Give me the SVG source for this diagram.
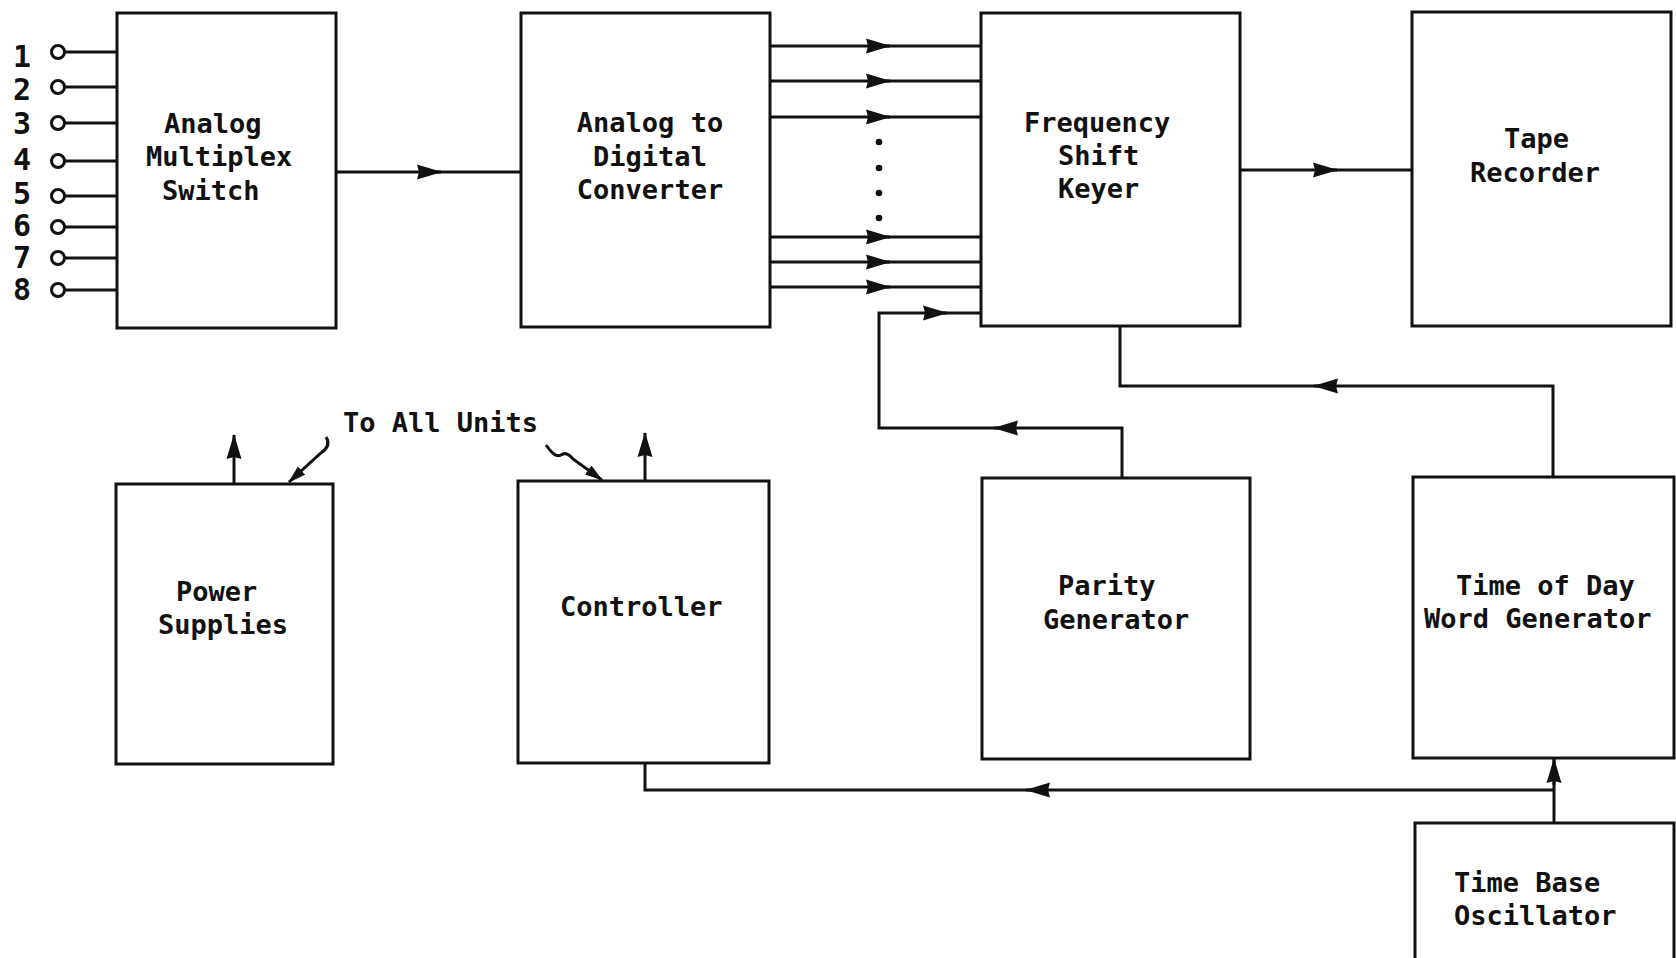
<svg xmlns="http://www.w3.org/2000/svg" width="1676" height="958" viewBox="0 0 1676 958">
<style>
.box{fill:none;stroke:#111;stroke-width:3}
.ln{fill:none;stroke:#111;stroke-width:3}
.lbl{font-family:"DejaVu Sans Mono","Liberation Mono",monospace;font-size:27px;font-weight:bold;fill:#111}
.num{font-family:"DejaVu Sans Mono","Liberation Mono",monospace;font-size:30px;font-weight:bold;fill:#111;text-anchor:middle}
.mid{text-anchor:middle}
.pin{fill:#fff;stroke:#111;stroke-width:3}
</style>
<defs>
<marker id="ah" markerUnits="userSpaceOnUse" markerWidth="25" markerHeight="16" viewBox="0 0 25 16" refX="24" refY="8" orient="auto">
<path d="M0,0.5 L25,8 L0,15.5 L2,8 z" fill="#111"/>
</marker>
<marker id="sh" markerUnits="userSpaceOnUse" markerWidth="18" markerHeight="12" viewBox="0 0 18 12" refX="17" refY="6" orient="auto">
<path d="M0,0.5 L18,6 L0,11.5 z" fill="#111"/>
</marker>
</defs>
<rect width="1676" height="958" fill="#fff"/>

<g id="connectors">
<g id="inputs">
<line class="ln" x1="65" y1="52" x2="118" y2="52"/>
<line class="ln" x1="65" y1="87" x2="118" y2="87"/>
<line class="ln" x1="65" y1="123" x2="118" y2="123"/>
<line class="ln" x1="65" y1="161" x2="118" y2="161"/>
<line class="ln" x1="65" y1="196" x2="118" y2="196"/>
<line class="ln" x1="65" y1="227" x2="118" y2="227"/>
<line class="ln" x1="65" y1="258" x2="118" y2="258"/>
<line class="ln" x1="65" y1="290" x2="118" y2="290"/>
<circle class="pin" cx="58" cy="52" r="6.5"/>
<circle class="pin" cx="58" cy="87" r="6.5"/>
<circle class="pin" cx="58" cy="123" r="6.5"/>
<circle class="pin" cx="58" cy="161" r="6.5"/>
<circle class="pin" cx="58" cy="196" r="6.5"/>
<circle class="pin" cx="58" cy="227" r="6.5"/>
<circle class="pin" cx="58" cy="258" r="6.5"/>
<circle class="pin" cx="58" cy="290" r="6.5"/>
<text class="num" x="22" y="67">1</text>
<text class="num" x="22" y="100">2</text>
<text class="num" x="22" y="134">3</text>
<text class="num" x="22" y="170">4</text>
<text class="num" x="22" y="204">5</text>
<text class="num" x="22" y="236">6</text>
<text class="num" x="22" y="268">7</text>
<text class="num" x="22" y="300">8</text>
</g>
<path class="ln" d="M336 172 H521"/>
<path class="ln" d="M420 172 H441" marker-end="url(#ah)"/>
<path class="ln" d="M770 46 H981"/>
<path class="ln" d="M770 81 H981"/>
<path class="ln" d="M770 117 H981"/>
<path class="ln" d="M770 237 H981"/>
<path class="ln" d="M770 262 H981"/>
<path class="ln" d="M770 287 H981"/>
<path class="ln" d="M870 46 H890" marker-end="url(#ah)"/>
<path class="ln" d="M870 81 H890" marker-end="url(#ah)"/>
<path class="ln" d="M870 117 H890" marker-end="url(#ah)"/>
<path class="ln" d="M870 237 H890" marker-end="url(#ah)"/>
<path class="ln" d="M870 262 H890" marker-end="url(#ah)"/>
<path class="ln" d="M870 287 H890" marker-end="url(#ah)"/>
<circle cx="879" cy="142" r="3.3" fill="#111"/>
<circle cx="879" cy="168" r="3.3" fill="#111"/>
<circle cx="879" cy="193" r="3.3" fill="#111"/>
<circle cx="879" cy="218" r="3.3" fill="#111"/>
<path class="ln" d="M1240 170 H1412"/>
<path class="ln" d="M1316 170 H1337" marker-end="url(#ah)"/>
<path class="ln" d="M1122 478 V428 H879 V313 H981"/>
<path class="ln" d="M1015 428 H994" marker-end="url(#ah)"/>
<path class="ln" d="M926 313 H947" marker-end="url(#ah)"/>
<path class="ln" d="M1553 477 V386 H1120 V326"/>
<path class="ln" d="M1335 386 H1314" marker-end="url(#ah)"/>
<path class="ln" d="M1554 823 V758"/>
<path class="ln" d="M1554 785 V759" marker-end="url(#ah)"/>
<path class="ln" d="M1554 790 H645 V763"/>
<path class="ln" d="M1047 790 H1026" marker-end="url(#ah)"/>
<path class="ln" d="M234 484 V435" marker-end="url(#ah)"/>
<path class="ln" d="M645 481 V433" marker-end="url(#ah)"/>
<path class="ln" d="M326 437 c4 6 2 11 -5 16 L289 482" marker-end="url(#sh)"/>
<path class="ln" d="M546 445 c5 7 10 13 15 10 c4 -3 8 -1 12 4 L602 480" marker-end="url(#sh)"/>
<text class="lbl" x="343" y="432">To All Units</text>
</g>

<g id="mux">
<rect class="box" x="117" y="13" width="219" height="315"/>
<text class="lbl" x="164" y="133">Analog</text>
<text class="lbl" x="146" y="166">Multiplex</text>
<text class="lbl" x="162" y="200">Switch</text>
</g>
<g id="adc">
<rect class="box" x="521" y="13" width="249" height="314"/>
<text class="lbl mid" x="650" y="132">Analog to</text>
<text class="lbl mid" x="650" y="166">Digital</text>
<text class="lbl mid" x="650" y="199">Converter</text>
</g>
<g id="fsk">
<rect class="box" x="981" y="13" width="259" height="313"/>
<text class="lbl" x="1024" y="132">Frequency</text>
<text class="lbl" x="1058" y="165">Shift</text>
<text class="lbl" x="1058" y="198">Keyer</text>
</g>
<g id="tape">
<rect class="box" x="1412" y="12" width="259" height="314"/>
<text class="lbl" x="1504" y="148">Tape</text>
<text class="lbl" x="1470" y="182">Recorder</text>
</g>
<g id="power">
<rect class="box" x="116" y="484" width="217" height="280"/>
<text class="lbl" x="176" y="601">Power</text>
<text class="lbl" x="158" y="634">Supplies</text>
</g>
<g id="controller">
<rect class="box" x="518" y="481" width="251" height="282"/>
<text class="lbl" x="560" y="616">Controller</text>
</g>
<g id="parity">
<rect class="box" x="982" y="478" width="268" height="281"/>
<text class="lbl" x="1058" y="595">Parity</text>
<text class="lbl" x="1043" y="629">Generator</text>
</g>
<g id="tod">
<rect class="box" x="1413" y="477" width="261" height="281"/>
<text class="lbl" x="1456" y="595">Time of Day</text>
<text class="lbl" x="1424" y="628">Word Generator</text>
</g>
<g id="tbo">
<rect class="box" x="1415" y="823" width="259" height="150"/>
<text class="lbl" x="1454" y="892">Time Base</text>
<text class="lbl" x="1454" y="925">Oscillator</text>
</g>
</svg>
